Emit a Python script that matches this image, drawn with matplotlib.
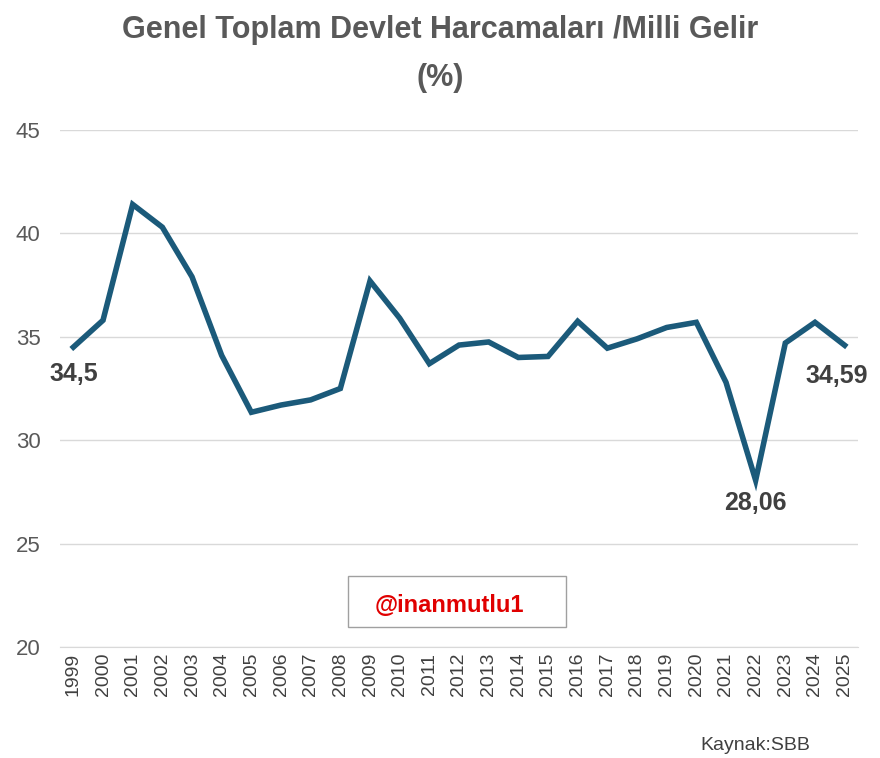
import matplotlib
matplotlib.use("Agg")
import matplotlib.pyplot as plt
from matplotlib.patches import Rectangle
plt.rcParams['font.family'] = ['Liberation Sans', 'DejaVu Sans']

years = list(range(1999, 2026))
values = [34.5, 35.8, 41.4, 40.3, 37.9, 34.1, 31.35, 31.7, 31.95, 32.5, 37.7, 35.9, 33.7,
          34.6, 34.75, 34.0, 34.05, 35.75, 34.45, 34.9, 35.45, 35.7, 32.8, 28.06, 34.7, 35.7, 34.59]
yticks = [20, 25, 30, 35, 40, 45]

fig = plt.figure(figsize=(8.8, 7.58), dpi=100)
ax = fig.add_axes([60/880, 1-647/758, (858-60)/880, (647-130)/758])
ax.plot(years, values, color="#1b5a7a", lw=4, solid_joinstyle="miter")
ax.set_xlim(1998.55, 2025.45)
ax.set_ylim(20, 45)
ax.set_yticks(yticks)
ax.set_xticks(years)
ax.set_xticklabels([str(y) for y in years], rotation=90, fontsize=14, color="#404040")
ax.tick_params(axis="y", labelsize=16, labelcolor="#595959", length=0, pad=14)
ax.tick_params(axis="x", length=0, pad=4)
ax.grid(axis="y", color="#d9d9d9", lw=1)
ax.set_axisbelow(True)
for s in ["top", "right", "left"]:
    ax.spines[s].set_visible(False)
ax.spines["bottom"].set_color("#d9d9d9")

lab = dict(fontsize=18, fontweight="bold", color="#404040", ha="center", va="center")
ax.annotate("34,5", (years[0], values[0]), xytext=(0, -19), textcoords="offset points", **lab)
ax.annotate("28,06", (years[23], values[23]), xytext=(0, -16), textcoords="offset points", **lab)
ax.annotate("34,59", (years[26], values[26]), xytext=(-6, -22), textcoords="offset points", **lab)

fig.text(0.5, 1-30/758, "Genel Toplam Devlet Harcamaları /Milli Gelir", ha="center", va="center",
         fontsize=22, fontweight="bold", color="#595959")
fig.text(0.5, 1-78/758, "(%)", ha="center", va="center", fontsize=22, fontweight="bold", color="#595959")
fig.patches.append(Rectangle((348/880, 1-627/758), 218/880, 51/758, transform=fig.transFigure,
                             fc="white", ec="#a0a0a0", lw=1))
fig.text(449/880, 1-606/758, "@inanmutlu1", ha="center", va="center", fontsize=17, fontweight="bold",
         color="#e00000")
fig.text(755/880, 1-745/758, "Kaynak:SBB", ha="center", va="center", fontsize=14, color="#404040")
fig.savefig("out.png", dpi=100)
